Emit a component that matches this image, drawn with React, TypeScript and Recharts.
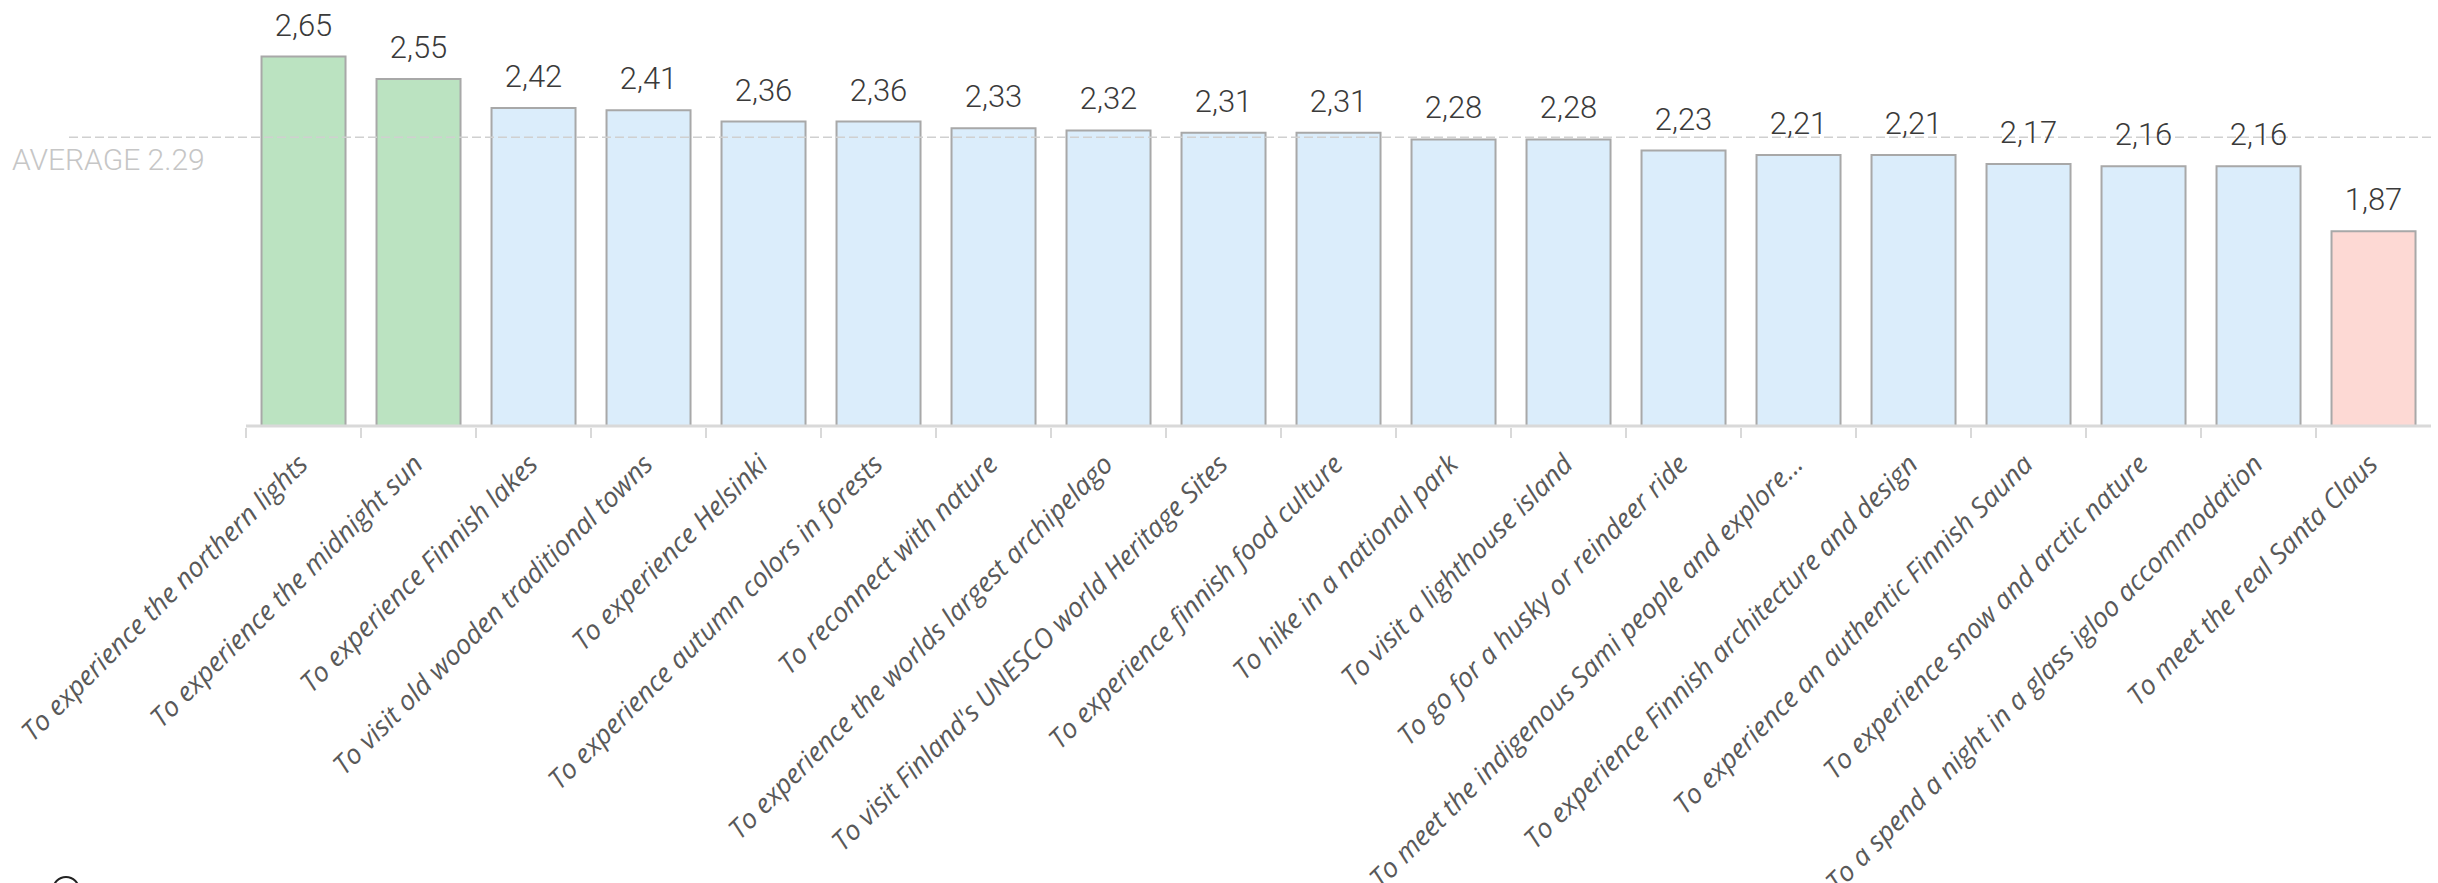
import { BarChart, Bar, XAxis, YAxis, Cell, LabelList, ReferenceLine } from "recharts";

const categories = [
  "To experience the northern lights",
  "To experience the midnight sun",
  "To experience Finnish lakes",
  "To visit old wooden traditional towns",
  "To experience Helsinki",
  "To experience autumn colors in forests",
  "To reconnect with nature",
  "To experience the worlds largest archipelago",
  "To visit Finland's UNESCO world Heritage Sites",
  "To experience finnish food culture",
  "To hike in a national park",
  "To visit a lighthouse island",
  "To go for a husky or reindeer ride",
  "To meet the indigenous Sami people and explore...",
  "To experience Finnish architecture and design",
  "To experience an authentic Finnish Sauna",
  "To experience snow and arctic nature",
  "To a spend a night in a glass igloo accommodation",
  "To meet the real Santa Claus",
];

const scores = [
  2.65, 2.55, 2.42, 2.41, 2.36, 2.36, 2.33, 2.32, 2.31, 2.31, 2.28, 2.28, 2.23,
  2.21, 2.21, 2.17, 2.16, 2.16, 1.87,
];

// top = above the rest, bottom = clearly below
const groups = [
  "top", "top", "mid", "mid", "mid", "mid", "mid", "mid", "mid", "mid",
  "mid", "mid", "mid", "mid", "mid", "mid", "mid", "mid", "bottom",
];

const AVERAGE = 2.29;
const yDomain = [1, 2.8];

const groupFill: Record<string, string> = {
  top: "#bbe3c1",
  mid: "#dbedfb",
  bottom: "#fdd9d4",
};

const rows = categories.map((name, i) => ({
  name,
  score: scores[i],
  group: groups[i],
}));

const W = 2438;
const H = 883;
const PLOT_LEFT = 246;
const PLOT_RIGHT = 7;
const BAND_HALF = (W - PLOT_LEFT - PLOT_RIGHT) / categories.length / 2;

const thin = 'Roboto, "DejaVu Sans Condensed", sans-serif';

function AxisTick(props: any) {
  const { x, y, payload } = props;
  const left = x - BAND_HALF;
  const tx = x + 6;
  const ty = y + 38;
  return (
    <g>
      <line x1={left} y1={y} x2={left} y2={y + 10} stroke="#d9d9d9" strokeWidth={2} />
      <text
        x={tx}
        y={ty}
        transform={`rotate(-45, ${tx}, ${ty})`}
        textAnchor="end"
        fontFamily='"Open Sans", sans-serif'
        fontStyle="italic"
        fontSize={27}
        fill="#595959"
      >
        {payload.value}
      </text>
    </g>
  );
}

function AverageLine(props: any) {
  const { x2, y1, y2 } = props;
  return (
    <g>
      <line
        x1={69}
        y1={y1}
        x2={x2}
        y2={y2}
        stroke="#d0d0d0"
        strokeWidth={1.5}
        strokeDasharray="9 4"
      />
      <text x={12} y={y1 + 33} fontFamily={thin} fontWeight={300} fontSize={30} fill="#c6c6c6">
        {`AVERAGE ${AVERAGE}`}
      </text>
    </g>
  );
}

export default function App() {
  return (
    <div style={{ position: "absolute", left: 0, top: 0, width: W, height: H, overflow: "hidden" }}>
      <BarChart
        width={W}
        height={H}
        data={rows}
        margin={{ top: 23, right: PLOT_RIGHT, left: PLOT_LEFT, bottom: 0 }}
        barCategoryGap="13.5%"
      >
        <XAxis
          dataKey="name"
          interval={0}
          height={457}
          tickSize={0}
          tickLine={false}
          axisLine={{ stroke: "#d9d9d9", strokeWidth: 3 }}
          tick={<AxisTick />}
        />
        <YAxis hide domain={yDomain} />
        <Bar dataKey="score" stroke="#a8a8a8" strokeWidth={2} isAnimationActive={false}>
          {rows.map((r) => (
            <Cell key={r.name} fill={groupFill[r.group]} />
          ))}
          <LabelList
            dataKey="score"
            position="top"
            offset={21}
            formatter={(v: any) => Number(v).toFixed(2).replace(".", ",")}
            style={{ fontFamily: thin, fontWeight: 300, fontSize: 31, fill: "#3a3a3a" }}
          />
        </Bar>
        <ReferenceLine y={AVERAGE} shape={AverageLine} />
      </BarChart>
      <div
        style={{
          position: "absolute",
          left: 52,
          top: 876,
          width: 24,
          height: 24,
          borderRadius: "50%",
          border: "2.5px solid #222",
        }}
      />
    </div>
  );
}
